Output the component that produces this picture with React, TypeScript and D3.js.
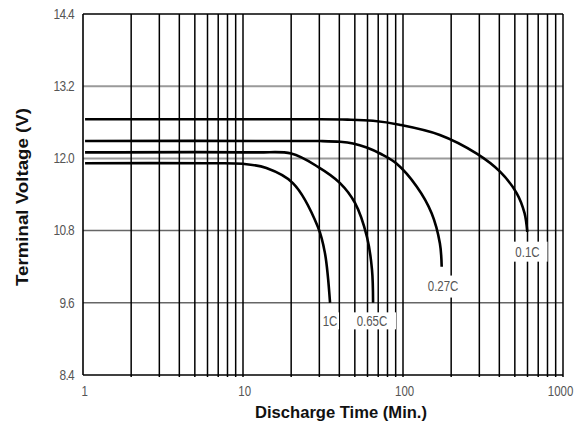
import React from "react";
import * as d3 from "d3";

const W = 587;
const H = 431;

const xTickValues = [1, 10, 100, 1000];
const xTickLabels = ["1", "10", "100", "1000"];
const yTickValues = [8.4, 9.6, 10.8, 12.0, 13.2, 14.4];
const yTickLabels = ["8.4", "9.6", "10.8", "12.0", "13.2", "14.4"];

const curve01C: [number, number][] = [
  [1.03, 12.65], [25, 12.65], [45, 12.645], [65, 12.625], [95, 12.56],
  [170, 12.39], [289, 12.08], [404, 11.78], [514, 11.42], [575, 11.09], [598, 10.78],
];
const curve027C: [number, number][] = [
  [1.03, 12.29], [22, 12.29], [30.3, 12.288], [40.4, 12.276], [48.7, 12.248], [59.3, 12.181],
  [72.9, 12.073], [91, 11.915], [122, 11.53], [151, 11.09], [170, 10.59], [174.5, 10.2],
];
const curve065C: [number, number][] = [
  [1.03, 12.1], [12, 12.1], [20, 12.08], [29.4, 11.86], [40.4, 11.59], [50.1, 11.26],
  [59.6, 10.69], [64, 10.15], [65, 9.6],
];
const curve1C: [number, number][] = [
  [1.03, 11.92], [6, 11.92], [10, 11.91], [14, 11.84], [20.5, 11.59], [29.4, 10.86],
  [32.5, 10.43], [35, 9.6],
];

const seriesNames = ["0.1C", "0.27C", "0.65C", "1C"];
const seriesData = [curve01C, curve027C, curve065C, curve1C];
const labelPos: [number, number][] = [
  [600, 10.45],
  [178, 9.87],
  [64, 9.3],
  [35, 9.3],
];
const labelBox: [number, number][] = [
  [40, 20],
  [36, 22],
  [48, 17],
  [18, 17],
];

const condensed = "'Liberation Sans Narrow', 'Arial Narrow', 'Liberation Sans', Arial, sans-serif";

export default function App() {
  const x = d3.scaleLog().domain([1, 1000]).range([83, 563]);
  const y = d3.scaleLinear().domain([8.4, 14.4]).range([375, 14]);

  const minorTicks: number[] = [];
  for (let d = 1; d < 1000; d *= 10) {
    for (let k = 2; k <= 10; k++) minorTicks.push(d * k);
  }

  const line = d3
    .line<[number, number]>()
    .x((d) => x(d[0]))
    .y((d) => y(d[1]))
    .curve(d3.curveCatmullRom.alpha(0.5));

  return (
    <svg
      width={W}
      height={H}
      style={{ position: "absolute", left: 0, top: 0, background: "#fff" }}
    >
      <rect x={0} y={0} width={W} height={H} fill="#fff" />
      {yTickValues.slice(1, 5).map((v) => (
        <line
          key={"h" + v}
          x1={x(1)}
          x2={x(1000)}
          y1={y(v)}
          y2={y(v)}
          stroke={v >= 12 ? "#9a9a9a" : "#666"}
          strokeWidth={v >= 12 ? 2 : 1.5}
        />
      ))}
      {minorTicks.map((t) => (
        <line
          key={"v" + t}
          x1={x(t)}
          x2={x(t)}
          y1={y(14.4)}
          y2={y(8.4) + 2}
          stroke="#000"
          strokeWidth={1.5}
        />
      ))}
      <line x1={x(1)} x2={x(1)} y1={y(14.4)} y2={y(8.4)} stroke="#000" strokeWidth={1.6} />
      <line x1={x(1)} x2={x(1000)} y1={y(8.4)} y2={y(8.4)} stroke="#000" strokeWidth={1.6} />
      <line x1={x(1)} x2={x(1000)} y1={y(14.4)} y2={y(14.4)} stroke="#000" strokeWidth={1.6} />

      {seriesData.map((d, i) => (
        <path key={"c" + i} d={line(d) || ""} fill="none" stroke="#000" strokeWidth={2.6} />
      ))}

      {seriesNames.map((n, i) => {
        const cx = x(labelPos[i][0]);
        const cy = y(labelPos[i][1]);
        const [bw, bh] = labelBox[i];
        return (
          <g key={"l" + n}>
            <rect x={cx - bw / 2} y={cy - bh / 2} width={bw} height={bh} fill="#fff" />
            <text
              x={cx}
              y={cy}
              textAnchor="middle"
              dominantBaseline="central"
              fontFamily={condensed}
              fontSize={14}
              fill="#555"
              transform={`translate(${cx},0) scale(0.82,1) translate(${-cx},0)`}
            >
              {n}
            </text>
          </g>
        );
      })}

      {yTickValues.map((v, i) => (
        <text
          key={"yt" + v}
          x={74}
          y={y(v)}
          textAnchor="end"
          dominantBaseline="central"
          fontFamily={condensed}
          fontSize={14}
          fill="#555"
          letterSpacing={-0.8}
          transform={`translate(74,0) scale(0.85,1) translate(-74,0)`}
        >
          {yTickLabels[i]}
        </text>
      ))}
      {xTickValues.map((v, i) => (
        <text
          key={"xt" + v}
          x={x(v) + (v === 1000 ? -3 : 2)}
          y={391}
          textAnchor="middle"
          dominantBaseline="central"
          fontFamily={condensed}
          fontSize={14}
          fill="#555"
          transform={`translate(${x(v)},0) scale(0.82,1) translate(${-x(v)},0)`}
        >
          {xTickLabels[i]}
        </text>
      ))}

      <text
        x={341}
        y={412}
        textAnchor="middle"
        dominantBaseline="central"
        fontFamily={condensed}
        fontWeight="bold"
        fontSize={16}
        fill="#111"
        textLength={172}
        lengthAdjust="spacingAndGlyphs"
      >
        Discharge Time (Min.)
      </text>
      <text
        x={0}
        y={0}
        transform="translate(22,197) rotate(-90)"
        textAnchor="middle"
        dominantBaseline="central"
        fontFamily={condensed}
        fontWeight="bold"
        fontSize={16}
        fill="#111"
        textLength={178}
        lengthAdjust="spacingAndGlyphs"
      >
        Terminal Voltage (V)
      </text>
    </svg>
  );
}
